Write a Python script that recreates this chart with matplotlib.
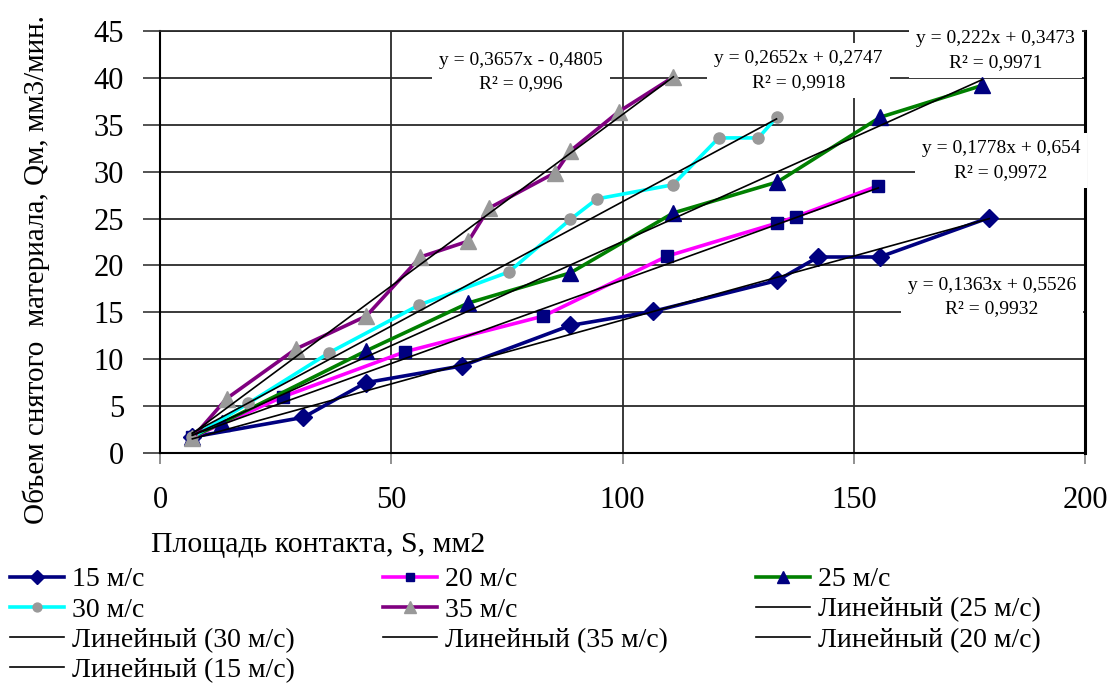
import numpy as np
import matplotlib
matplotlib.use('Agg')
import matplotlib.pyplot as plt

plt.rcParams['font.family'] = ['Liberation Serif', 'DejaVu Serif']

# площадь контакта S, мм2 / объем снятого материала Qм, мм3/мин
s15_x = [7, 31, 44.5, 65.4, 88.7, 106.6, 133.5, 142.3, 155.6, 179.3]
s15_y = [1.7, 3.8, 7.5, 9.3, 13.6, 15.1, 18.4, 20.9, 20.9, 25.1]

s20_x = [7, 26.6, 53, 82.9, 109.7, 133.3, 137.5, 155.3]
s20_y = [1.7, 6.0, 10.8, 14.6, 21.0, 24.5, 25.2, 28.5]

s25_x = [7, 13.3, 44.6, 66.7, 88.7, 111, 133.5, 155.7, 177.8]
s25_y = [1.7, 3.2, 10.9, 16.0, 19.2, 25.6, 28.9, 35.8, 39.2]

s30_x = [7, 19.1, 36.6, 56.1, 75.4, 88.7, 94.5, 110.9, 120.8, 129.4, 133.3]
s30_y = [1.7, 5.3, 10.7, 15.8, 19.3, 24.9, 27.1, 28.6, 33.6, 33.6, 35.8]

s35_x = [7, 14.4, 29.4, 44.6, 56.3, 66.7, 71.1, 85.5, 88.7, 99.2, 111]
s35_y = [1.6, 5.8, 11.1, 14.6, 20.9, 22.6, 26.1, 29.9, 32.2, 36.4, 40.1]

names = ['15 м/с', '20 м/с', '25 м/с', '30 м/с', '35 м/с']
slopes = [0.1363, 0.1778, 0.222, 0.2652, 0.3657]
intercepts = [0.5526, 0.654, 0.3473, 0.2747, -0.4805]
eq_texts = ['y = 0,1363x + 0,5526\nR² = 0,9932',
            'y = 0,1778x + 0,654\nR² = 0,9972',
            'y = 0,222x + 0,3473\nR² = 0,9971',
            'y = 0,2652x + 0,2747\nR² = 0,9918',
            'y = 0,3657x - 0,4805\nR² = 0,996']
eq_pos = [(179.9, 16.6), (181.8, 31.2), (180.7, 42.9), (138.1, 40.8), (78.1, 40.6)]

xs = [s15_x, s20_x, s25_x, s30_x, s35_x]
ys = [s15_y, s20_y, s25_y, s30_y, s35_y]
line_colors = ['#000080', '#FF00FF', '#008000', '#00FFFF', '#800080']
markers = ['D', 's', '^', 'o', '^']
msizes = [9.5, 8, 11, 8, 11]
mcolors = ['#000080', '#000080', '#000080', '#999999', '#999999']

fig = plt.figure(figsize=(11.14, 6.84), dpi=100)
ax = fig.add_axes([160 / 1114, 1 - 453 / 684, 925 / 1114, 422 / 684])

ax.set_xlim(0, 200)
ax.set_ylim(0, 45)
ax.set_xticks([0, 50, 100, 150, 200])
ax.set_yticks(np.arange(0, 46, 5))
ax.grid(True, color='#2a2a2a', lw=1.3, zorder=0.5)
ax.set_axisbelow(True)
ax.tick_params(axis='y', direction='out', length=12, width=1.3, color='#444444',
               labelsize=22, pad=14)
ax.tick_params(axis='x', direction='out', length=8, width=1.3, color='#888888',
               labelsize=22, pad=16)
for side in ['left', 'bottom']:
    ax.spines[side].set_linewidth(1.5)
ax.spines['right'].set_linewidth(2.2)
ax.spines['top'].set_linewidth(1.3)
ax.spines['top'].set_color('#2a2a2a')

handles = []
trend_handles = []
for i in range(5):
    h, = ax.plot(xs[i], ys[i], color=line_colors[i], lw=2.6, marker=markers[i],
                 ms=msizes[i], mfc=mcolors[i], mec=mcolors[i], zorder=4 + i * 0.1)
    handles.append(h)
for i in range(5):
    tx = np.array([min(xs[i]), max(xs[i])])
    t, = ax.plot(tx, slopes[i] * tx + intercepts[i], color='black', lw=1.2, zorder=5)
    trend_handles.append(t)
    ax.text(eq_pos[i][0], eq_pos[i][1], eq_texts[i], ha='center', va='center',
            fontsize=14, linespacing=1.5, zorder=3, clip_on=False,
            bbox=dict(facecolor='white', edgecolor='none', pad=5))

fig.text(36 / 1114, 1 - 270 / 684, 'Объем снятого  материала, Qм, мм3/мин.',
         rotation=90, ha='center', va='center', fontsize=21)
fig.text(318 / 1114, 1 - 545 / 684, 'Площадь контакта, S, мм2',
         ha='center', va='center', fontsize=21.5)

lin = ['Линейный (' + n + ')' for n in names]
# порядок как в легенде Excel (по строкам)
order_h = [handles[0], handles[3], trend_handles[3], trend_handles[0],
           handles[1], handles[4], trend_handles[4],
           handles[2], trend_handles[2], trend_handles[1]]
order_l = [names[0], names[3], lin[3], lin[0],
           names[1], names[4], lin[4],
           names[2], lin[2], lin[1]]
leg = fig.legend(order_h, order_l, loc='upper left', bbox_to_anchor=(10 / 1114, 1 - 567 / 684),
                 ncol=3, frameon=False, fontsize=20, numpoints=1, handlelength=1.95,
                 handletextpad=0.3, labelspacing=0.17, columnspacing=3.15,
                 borderaxespad=0, borderpad=0, markerscale=0.8)

fig.savefig('out.png', dpi=100)
